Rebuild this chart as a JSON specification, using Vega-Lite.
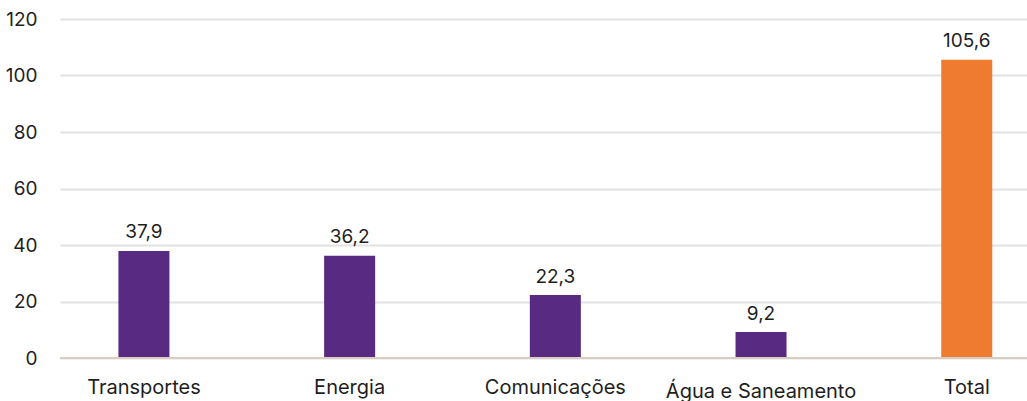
{
  "$schema": "https://vega.github.io/schema/vega-lite/v6.json",
  "autosize": "none",
  "padding": {"left": 60, "top": 19, "right": 0, "bottom": 43},
  "width": 967,
  "height": 339,
  "background": "white",
  "config": {
    "view": {"stroke": null},
    "font": "Inter",
    "locale": {
      "number": {"decimal": ",", "thousands": ".", "grouping": [3], "currency": ["R$", ""]}
    }
  },
  "data": {
    "values": [
      {"setor": "Transportes", "valor": 37.9, "tipo": "setor"},
      {"setor": "Energia", "valor": 36.2, "tipo": "setor"},
      {"setor": "Comunicações", "valor": 22.3, "tipo": "setor"},
      {"setor": "Água e Saneamento", "valor": 9.2, "tipo": "setor"},
      {"setor": "Total", "valor": 105.6, "tipo": "total"}
    ]
  },
  "encoding": {
    "x": {
      "field": "setor",
      "type": "nominal",
      "sort": null,
      "scale": {"paddingInner": 0.752, "paddingOuter": 0.2265, "align": 0.627, "round": false},
      "axis": {
        "title": null,
        "labelAngle": 0,
        "labelFontSize": 20,
        "labelColor": "#1e1e1e",
        "labelLimit": 400,
        "labelPadding": {
          "condition": {"test": "datum.value === 'Água e Saneamento'", "value": 23},
          "value": 19
        },
        "ticks": false,
        "domain": false,
        "grid": false
      }
    }
  },
  "layer": [
    {
      "mark": {"type": "bar", "clip": false},
      "encoding": {
        "y": {
          "field": "valor",
          "type": "quantitative",
          "scale": {"domain": [0, 120], "nice": false},
          "axis": {
            "title": null,
            "values": [0, 20, 40, 60, 80, 100, 120],
            "format": "d",
            "labelFontSize": 19,
            "labelColor": "#1e1e1e",
            "labelPadding": 23,
            "ticks": false,
            "domain": false,
            "grid": true,
            "gridColor": "#e2e2e2",
            "gridWidth": 2
          }
        },
        "color": {
          "field": "tipo",
          "type": "nominal",
          "scale": {"domain": ["setor", "total"], "range": ["#582a81", "#ef7b30"]},
          "legend": null
        }
      }
    },
    {
      "mark": {"type": "rule", "color": "#d9cdc1", "strokeWidth": 2},
      "encoding": {"y": {"datum": 0, "type": "quantitative"}, "x": {"value": 0}, "x2": {"value": 967}}
    },
    {
      "mark": {"type": "text", "baseline": "alphabetic", "dy": -12.5, "fontSize": 19, "color": "#1e1e1e"},
      "encoding": {
        "y": {"field": "valor", "type": "quantitative"},
        "text": {"field": "valor", "type": "quantitative", "format": ".1f"}
      }
    }
  ]
}
